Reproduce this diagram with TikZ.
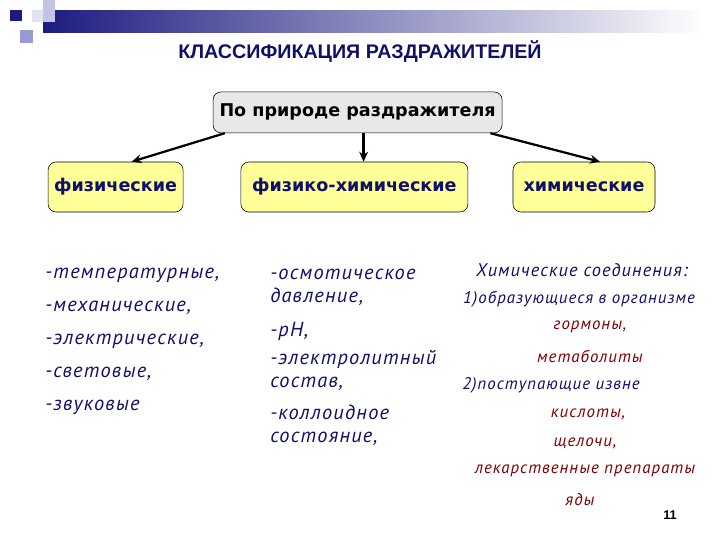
\documentclass[tikz,border=0pt]{standalone}
\usepackage{fontspec}
\usetikzlibrary{arrows.meta,positioning,calc}
\setmainfont{DejaVu Sans}
\newfontfamily\titlefont{Liberation Sans}
\newfontfamily\itemfont[LetterSpace=6]{PT Sans}
\definecolor{navy}{HTML}{10106A}
\definecolor{barblue}{HTML}{1C1C80}
\definecolor{lemon}{HTML}{FFFF99}
\definecolor{pale}{HTML}{E8E8E8}
\definecolor{wine}{HTML}{800000}
\definecolor{lav}{HTML}{C4C4E6}
\definecolor{lavdark}{HTML}{9A9AD2}
\definecolor{lavlight}{HTML}{E2E2F2}
\tikzset{topbox/.style={draw=black,fill=pale,rounded corners=2mm,font=\bfseries\fontsize{12.5}{15}\selectfont,minimum width=7.225cm,minimum height=1.025cm},kindbox/.style={draw=black,fill=lemon,rounded corners=2mm,text=navy,font=\bfseries\fontsize{12.5}{15}\selectfont,minimum height=1.25cm},flow/.style={-{Stealth[length=2.5mm,width=2.2mm]},line width=1.6pt},itemlist/.style={align=left,inner sep=0pt,text=navy,anchor=north west},chem/.style={text=navy,font=\itemfont\itshape\fontsize{12}{14}\selectfont,inner sep=0pt},agent/.style={chem,text=wine}}

\begin{document}
\begin{tikzpicture}
\useasboundingbox (0,0) rectangle (18,-13.5);
% header decoration
\shade[left color=barblue,right color=white] (1.075,-0.25) rectangle (17.6,-0.8);
\fill[barblue] (0.25,-0.25) rectangle (0.55,-0.53);
\fill[lav] (1.075,0) rectangle (1.375,-0.55);
\fill[lavlight] (0.8,-0.25) rectangle (1.075,-0.55);
\fill[lavdark] (0.5,-0.75) rectangle (0.825,-1.075);
\node[text=navy,font=\titlefont\bfseries\fontsize{14}{16}\selectfont] (title) at (9,-1.3) {КЛАССИФИКАЦИЯ РАЗДРАЖИТЕЛЕЙ};
% boxes
\node[topbox] (top) at (8.94,-2.81) {По природе раздражителя};
\node[kindbox,minimum width=3.375cm] (phys) at (2.89,-4.675) {физические};
\node[kindbox,minimum width=5.675cm] (physchem) at (8.86,-4.675) {физико-химические};
\node[kindbox,minimum width=3.55cm] (chemical) at (14.6,-4.675) {химические};
\draw[flow]([xshift=3mm]top.south west)--([xshift=4mm]phys.north);
\draw[flow]([xshift=1.5mm]top.south)--([xshift=1.5mm]top.south |- physchem.north);
\draw[flow]([xshift=-3mm]top.south east)--([xshift=4mm]chemical.north);
% lists
\node[itemlist,font=\itemfont\itshape\fontsize{14.5}{23.4}\selectfont] (physlist) at (1.125,-6.7) {-температурные,\\-механические,\\-электрические,\\-световые,\\-звуковые};
\node[itemlist,font=\itemfont\itshape\fontsize{14.5}{16.3}\selectfont] (pclist) at (6.75,-6.72) {-осмотическое\\давление,\\[7.8pt]-pH,\\[3.5pt]-электролитный\\состав,\\[7pt]-коллоидное\\состояние,};
\node[chem,font=\itemfont\itshape\fontsize{13}{15}\selectfont] (chemhead) at (14.55,-6.75) {Химические соединения:};
\node[chem] (inner) at (14.475,-7.475) {1)образующиеся в организме};
\node[agent] (horm) at (14.75,-8.175) {гормоны,};
\node[agent] (metab) at (14.75,-8.9) {метаболиты};
\node[chem] (outer) at (13.775,-9.625) {2)поступающие извне};
\node[agent] (acid) at (14.7,-10.35) {кислоты,};
\node[agent] (alkali) at (14.625,-11.075) {щелочи,};
\node[agent] (drugs) at (14.625,-11.775) {лекарственные препараты};
\node[agent] (poison) at (14.5,-12.5) {яды};
\node[font=\titlefont\bfseries\fontsize{9}{10}\selectfont] (page) at (16.75,-12.875) {11};
\end{tikzpicture}
\end{document}
